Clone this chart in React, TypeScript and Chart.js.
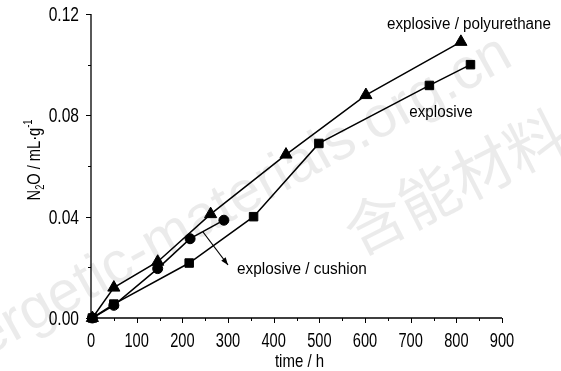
import React, { useEffect, useRef } from "react";
import { Chart, registerables } from "chart.js";

Chart.register(...registerables);

// ---- data ----
const timePolyurethane = [3, 50, 146, 262, 427, 602, 810];
const n2oPolyurethane = [0, 0.012, 0.0222, 0.041, 0.0645, 0.088, 0.109];
const timeExplosive = [3, 50, 215, 356, 499, 741, 831];
const n2oExplosive = [0, 0.0055, 0.0217, 0.04, 0.0689, 0.0918, 0.1];
const timeCushion = [3, 50, 146, 217, 291];
const n2oCushion = [0, 0.005, 0.0195, 0.0313, 0.0386];

const xMajorTicks = [0, 100, 200, 300, 400, 500, 600, 700, 800, 900];
const xMinorTicks = [50, 150, 250, 350, 450, 550, 650, 750, 850];
const yMajorTicks = [0, 0.04, 0.08, 0.12];
const yMajorLabels = ["0.00", "0.04", "0.08", "0.12"];
const yMinorTicks = [0.02, 0.06, 0.1];

const labelPolyurethane = "explosive / polyurethane";
const labelExplosive = "explosive";
const labelCushion = "explosive / cushion";
const xTitle = "time / h";

const FONT = '"Liberation Sans", Arial, sans-serif';

const toXY = (xs: number[], ys: number[]) => xs.map((x, i) => ({ x, y: ys[i] }));

function fillScaled(ctx: CanvasRenderingContext2D, text: string, x: number, y: number, align: CanvasTextAlign, font: string, sx: number) {
  ctx.save();
  ctx.translate(x, y);
  ctx.scale(sx, 1);
  ctx.font = font;
  ctx.textAlign = align;
  ctx.textBaseline = "alphabetic";
  ctx.fillText(text, 0, 0);
  ctx.restore();
}

const drawPlugin = {
  id: "customDraw",
  beforeDraw(chart: any) {
    const ctx = chart.ctx;
    ctx.save();
    ctx.fillStyle = "#ffffff";
    ctx.fillRect(0, 0, chart.width, chart.height);
    // watermark
    ctx.fillStyle = "rgba(0,0,0,0.08)";
    ctx.font = `58px "Liberation Sans", Arial, sans-serif`;
    ctx.translate(515, 64);
    ctx.rotate(-29 * Math.PI / 180);
    ctx.textAlign = "right";
    ctx.textBaseline = "alphabetic";
    ctx.fillText("energetic-materials.org.cn", 0, 0);
    ctx.restore();
    ctx.save();
    ctx.fillStyle = "rgba(0,0,0,0.08)";
    ctx.font = `60px "Noto Sans CJK SC", sans-serif`;
    ctx.translate(455, 182);
    ctx.rotate(-27 * Math.PI / 180);
    ctx.textAlign = "center";
    ctx.textBaseline = "middle";
    ctx.fillText("含能材料", 0, 0);
    ctx.restore();
  },
  afterDraw(chart: any) {
    const ctx = chart.ctx;
    const xs = chart.scales.x;
    const ys = chart.scales.y;
    const area = chart.chartArea;
    ctx.save();
    ctx.strokeStyle = "#000";
    ctx.fillStyle = "#000";
    ctx.lineWidth = 1.3;
    // axis lines
    ctx.beginPath();
    ctx.moveTo(area.left, ys.getPixelForValue(0.12));
    ctx.lineTo(area.left, ys.getPixelForValue(0));
    ctx.lineTo(xs.getPixelForValue(900), ys.getPixelForValue(0));
    ctx.stroke();
    // ticks
    ctx.lineWidth = 1;
    const y0 = ys.getPixelForValue(0);
    ctx.beginPath();
    xMajorTicks.forEach((v) => {
      const px = Math.round(xs.getPixelForValue(v)) + 0.5;
      ctx.moveTo(px, y0);
      ctx.lineTo(px, y0 + 5);
    });
    xMinorTicks.forEach((v) => {
      const px = Math.round(xs.getPixelForValue(v)) + 0.5;
      ctx.moveTo(px, y0);
      ctx.lineTo(px, y0 + 3);
    });
    yMajorTicks.forEach((v) => {
      const py = Math.round(ys.getPixelForValue(v)) + 0.5;
      ctx.moveTo(area.left, py);
      ctx.lineTo(area.left - 5, py);
    });
    yMinorTicks.forEach((v) => {
      const py = Math.round(ys.getPixelForValue(v)) + 0.5;
      ctx.moveTo(area.left, py);
      ctx.lineTo(area.left - 3, py);
    });
    ctx.stroke();
    // tick labels
    const tickFont = `19.5px ${FONT}`;
    xMajorTicks.forEach((v) => {
      fillScaled(ctx, String(v), xs.getPixelForValue(v), y0 + 29, "center", tickFont, 0.75);
    });
    yMajorTicks.forEach((v, i) => {
      fillScaled(ctx, yMajorLabels[i], area.left - 12, ys.getPixelForValue(v) + 7, "right", tickFont, 0.8);
    });
    // x title
    fillScaled(ctx, xTitle, 299.5, 366.5, "center", `19px ${FONT}`, 0.79);
    // y title with sub/superscript
    const big = `19px ${FONT}`;
    const small = `12px ${FONT}`;
    const parts: [string, string, number][] = [
      ["N", big, 0],
      ["2", small, 4],
      ["O / mL\u00b7g", big, 0],
      ["-1", small, -8],
    ];
    let total = 0;
    parts.forEach(([t, f]) => {
      ctx.font = f;
      total += ctx.measureText(t).width;
    });
    ctx.save();
    ctx.translate(40, 160);
    ctx.rotate(-Math.PI / 2);
    ctx.scale(0.77, 1);
    ctx.textAlign = "left";
    ctx.textBaseline = "alphabetic";
    let cx = -total / 2;
    parts.forEach(([t, f, dy]) => {
      ctx.font = f;
      ctx.fillText(t, cx, dy);
      cx += ctx.measureText(t).width;
    });
    ctx.restore();
    // annotations
    const annFont = `16px ${FONT}`;
    fillScaled(ctx, labelPolyurethane, 469, 28.5, "center", annFont, 0.95);
    fillScaled(ctx, labelExplosive, 441, 116.5, "center", annFont, 0.95);
    fillScaled(ctx, labelCushion, 237, 273.5, "left", annFont, 0.96);
    // arrow
    const ax1 = 203, ay1 = 232, ax2 = 228, ay2 = 265;
    ctx.lineWidth = 1.2;
    ctx.beginPath();
    ctx.moveTo(ax1, ay1);
    ctx.lineTo(ax2, ay2);
    ctx.stroke();
    const ang = Math.atan2(ay2 - ay1, ax2 - ax1);
    ctx.beginPath();
    ctx.moveTo(ax2, ay2);
    ctx.lineTo(ax2 - 8 * Math.cos(ang - 0.35), ay2 - 8 * Math.sin(ang - 0.35));
    ctx.lineTo(ax2 - 8 * Math.cos(ang + 0.35), ay2 - 8 * Math.sin(ang + 0.35));
    ctx.closePath();
    ctx.fill();
    ctx.restore();
  },
};

export default function App() {
  const ref = useRef<HTMLCanvasElement | null>(null);
  useEffect(() => {
    document.body.style.margin = "0";
    const canvas = ref.current!;
    const common = {
      borderColor: "#000",
      backgroundColor: "#000",
      pointBackgroundColor: "#000",
      pointBorderColor: "#000",
      borderWidth: 1.5,
      pointBorderWidth: 1,
      showLine: true,
      tension: 0,
      clip: false as any,
    };
    const chart = new Chart(canvas, {
      type: "scatter",
      data: {
        datasets: [
          { ...common, label: labelPolyurethane, data: toXY(timePolyurethane, n2oPolyurethane), pointStyle: "triangle", pointRadius: 7 },
          { ...common, label: labelExplosive, data: toXY(timeExplosive, n2oExplosive), pointStyle: "rect", pointRadius: 6 },
          { ...common, label: labelCushion, data: toXY(timeCushion, n2oCushion), pointStyle: "circle", pointRadius: 5 },
        ],
      },
      options: {
        animation: false,
        responsive: false,
        devicePixelRatio: 1,
        layout: { padding: { top: 14, right: 59, left: 0, bottom: 0 } },
        plugins: { legend: { display: false }, tooltip: { enabled: false } },
        events: [],
        scales: {
          x: {
            type: "linear",
            min: 0,
            max: 900,
            ticks: { display: false, stepSize: 100 },
            grid: { display: false },
            border: { display: false },
            afterFit: (s: any) => { s.height = 53; },
          },
          y: {
            type: "linear",
            min: 0,
            max: 0.12,
            ticks: { display: false, stepSize: 0.04 },
            grid: { display: false },
            border: { display: false },
            afterFit: (s: any) => { s.width = 91; },
          },
        },
      },
      plugins: [drawPlugin],
    });
    return () => chart.destroy();
  }, []);
  return (
    <div style={{ width: 561, height: 371, overflow: "hidden" }}>
      <canvas ref={ref} width={561} height={371} style={{ display: "block" }} />
    </div>
  );
}
